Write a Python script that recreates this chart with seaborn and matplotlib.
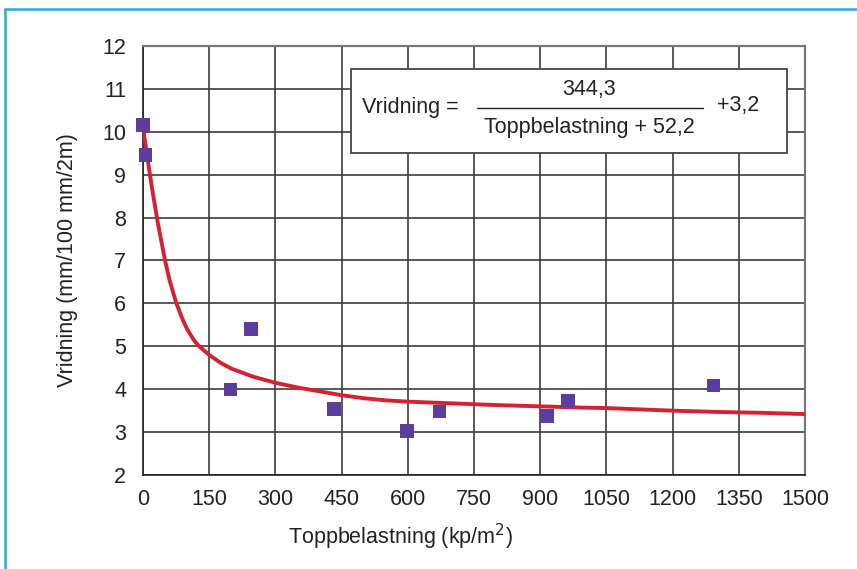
import numpy as np
import pandas as pd
import matplotlib
matplotlib.use("Agg")
import matplotlib.pyplot as plt
import seaborn as sns
from matplotlib.patches import Rectangle
from matplotlib.lines import Line2D

# measured points
load = [0, 6, 198, 245, 433, 598, 672, 915, 963, 1293]
twist = [10.16, 9.46, 3.99, 5.40, 3.54, 3.02, 3.48, 3.37, 3.74, 4.09]

# fitted curve
curve_x = [0, 5, 10, 15, 20, 25, 35, 50, 60, 75, 90, 100, 115, 125, 150, 175,
           200, 250, 300, 350, 400, 450, 500, 550, 600, 700, 750, 800, 900,
           1000, 1050, 1100, 1200, 1300, 1400, 1500]
curve_y = [10.1, 9.75, 9.4, 9.05, 8.72, 8.4, 7.8, 7.0, 6.55, 6.02, 5.62, 5.4,
           5.15, 5.02, 4.8, 4.62, 4.48, 4.29, 4.15, 4.04, 3.95, 3.86, 3.79,
           3.74, 3.71, 3.67, 3.65, 3.63, 3.60, 3.57, 3.56, 3.54, 3.50, 3.47,
           3.45, 3.42]

x_ticks = list(range(0, 1501, 150))
y_ticks = list(range(2, 13))

sns.set_theme(style="white")
plt.rcParams['font.family'] = ['Liberation Sans', 'DejaVu Sans']

fig = plt.figure(figsize=(8.57, 5.69), dpi=100)
ax = fig.add_axes([143 / 857, 1 - 475 / 569, 662 / 857, 429 / 569])

fs = 15.5
txt_col = "#222222"
grid_col = "#3c3c3c"
ax.set_xlim(0, 1500)
ax.set_ylim(2, 12)
ax.set_xticks(x_ticks)
ax.set_yticks(y_ticks)
ax.grid(True, color=grid_col, lw=1.2)
ax.set_axisbelow(True)
for side in ["top", "right"]:
    ax.spines[side].set_color("#777777")
    ax.spines[side].set_linewidth(1.6)
for side in ["left", "bottom"]:
    ax.spines[side].set_color("#222222")
    ax.spines[side].set_linewidth(1.2)
ax.tick_params(axis="both", which="both", direction="out", length=4,
               width=1.0, color="#333333", labelsize=fs, labelcolor=txt_col)
ax.tick_params(axis="y", pad=8)
ax.tick_params(axis="x", pad=6)

df_curve = pd.DataFrame({"x": curve_x, "y": curve_y})
sns.lineplot(data=df_curve, x="x", y="y", ax=ax, color="#d42232", lw=2.8,
             zorder=3)
df = pd.DataFrame({"load": load, "twist": twist})
sns.scatterplot(data=df, x="load", y="twist", ax=ax, marker="s", s=95,
                color="#5c3c9c", edgecolor="none", zorder=4, clip_on=False)

ax.set_xlabel("Toppbelastning (kp/m$^2$)", fontsize=fs, color=txt_col)
ax.set_ylabel("Vridning (mm/100 mm/2m)", fontsize=fs, color=txt_col)
ax.xaxis.set_label_coords((400 - 143) / 662, -(537 - 475) / 429)
ax.yaxis.set_label_coords(-(143 - 68) / 662, 0.5)
ax.xaxis.label.set_va("center")
ax.yaxis.label.set_va("center")

# equation box
W, H = 857, 569
def fx(px):
    return px / W
def fy(py):
    return 1 - py / H

box = Rectangle((fx(351), fy(153)), fx(787) - fx(351), fy(69) - fy(153),
                transform=fig.transFigure, facecolor="white",
                edgecolor="#444444", lw=1.3, zorder=5)
fig.add_artist(box)
fig.text(fx(362), fy(107), "Vridning =", fontsize=fs, color=txt_col,
         ha="left", va="center", zorder=6)
fig.text(fx(589), fy(90), "344,3", fontsize=fs, color=txt_col,
         ha="center", va="center", zorder=6)
fig.text(fx(589), fy(128), "Toppbelastning + 52,2", fontsize=fs, color=txt_col,
         ha="center", va="center", zorder=6)
fig.add_artist(Line2D([fx(477), fx(703)], [fy(108), fy(108)],
                      transform=fig.transFigure, color=txt_col, lw=1.0, zorder=6))
fig.text(fx(717), fy(106), "+3,2", fontsize=fs, color=txt_col,
         ha="left", va="center", zorder=6)

# cyan frame
frame_col = "#2aa9dc"
fig.add_artist(Line2D([fx(5), fx(857)], [fy(8.5), fy(8.5)],
                      transform=fig.transFigure, color=frame_col, lw=1.8))
fig.add_artist(Line2D([fx(5), fx(5)], [fy(8.5), fy(569)],
                      transform=fig.transFigure, color=frame_col, lw=1.8))

fig.savefig("out.png", dpi=100)
